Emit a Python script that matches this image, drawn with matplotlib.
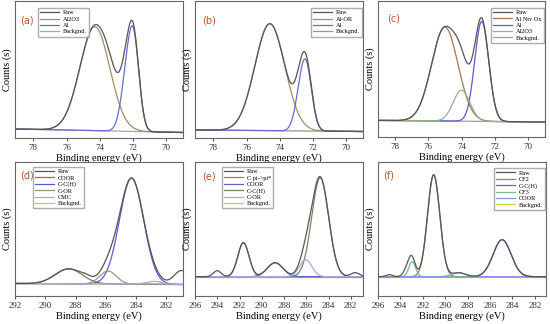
import numpy as np
import matplotlib.pyplot as plt

# ---- panel (a) ----
a_names = ['Al2O3', 'Al']
a_colors = ['#a88a68', '#6a6ad0']
a_comp = [0, 1, 1]
a_center = [74.3, 71.95, 72.4]
a_height = [104, 82, 45]
a_sigma = [0.9, 0.33, 0.35]
a_extra_center = [73.3]
a_extra_height = [14]
a_extra_sigma = [0.5]
a_bg = [9, 5.5]
a_xlim = [79.1, 69]
a_ticks = [78, 76, 74, 72, 70]

# ---- panel (b) ----
b_names = ['Al-OR', 'Al']
b_colors = ['#a88a68', '#6a6ad0']
b_comp = [0, 1, 1]
b_center = [74.6, 72.4, 72.8]
b_height = [107, 58, 25]
b_sigma = [0.9, 0.34, 0.33]
b_extra_center = [73.6]
b_extra_height = [0]
b_extra_sigma = [0.5]
b_bg = [8, 6.5]
b_xlim = [79.1, 69]
b_ticks = [78, 76, 74, 72, 70]

# ---- panel (c) ----
c_names = ['Al Ntv Ox', 'Al', 'Al2O3']
c_colors = ['#a07850', '#5a5ad0', '#98b088']
c_comp = [0, 1, 2]
c_center = [75.0, 72.79, 74.0]
c_height = [94, 100, 31]
c_sigma = [0.79, 0.42, 0.5]
c_extra_center = [74.6]
c_extra_height = [-6]
c_extra_sigma = [0.4]
c_bg = [16.6, 15]
c_xlim = [79, 69]
c_ticks = [78, 76, 74, 72, 70]

# ---- panel (d) ----
d_names = ['COOR', 'C-C(H)', 'C-OR', 'CMC']
d_colors = ['#857565', '#5a5ad0', '#909a82', '#a8a8e8']
d_comp = [0, 1, 2, 3]
d_center = [288.45, 284.3, 285.85, 282.8]
d_height = [15, 106, 13, 3]
d_sigma = [0.9, 0.8, 0.55, 0.5]
d_extra_center = [281.0, 287.3]
d_extra_height = [14, 3]
d_extra_sigma = [0.5, 0.35]
d_bg = [12.5, 11.5]
d_xlim = [292, 280.9]
d_ticks = [292, 290, 288, 286, 284, 282]

# ---- panel (e) ----
e_names = ['C pi->pi*', 'COOR', 'C-C(H)', 'C-OR']
e_colors = ['#a87850', '#6060c8', '#758565', '#a8a8e8']
e_comp = [0, 1, 2, 3]
e_center = [291.65, 288.8, 284.75, 286.05]
e_height = [34, 14, 99, 17]
e_sigma = [0.5, 0.7, 0.76, 0.55]
e_extra_center = [294.0, 281.6]
e_extra_height = [6, 4]
e_extra_sigma = [0.35, 0.4]
e_bg = [19.3, 19.3]
e_xlim = [296, 280.9]
e_ticks = [296, 294, 292, 290, 288, 286, 284, 282]

# ---- panel (f) ----
f_names = ['CF2', 'C-C(H)', 'CF3', 'COOR']
f_colors = ['#a87850', '#6060c8', '#78b898', '#8898e8']
f_comp = [0, 1, 2, 3]
f_center = [291.03, 284.92, 292.95, 288.8]
f_height = [102, 37, 15, 4]
f_sigma = [0.55, 0.8, 0.3, 0.6]
f_extra_center = [293.3, 295.0]
f_extra_height = [9, 2]
f_extra_sigma = [0.35, 0.3]
f_bg = [19.3, 19.3]
f_xlim = [296, 281]
f_ticks = [296, 294, 292, 290, 288, 286, 284, 282]

bg_colors = ['#a0a8a8', '#8a9a90', '#9898e0', '#c8c838', '#c8c838', '#d0d040']
raw_color = '#555555'
label_color = '#b5562a'

plt.rcParams['font.family'] = ['Liberation Serif', 'DejaVu Serif']

W, H = 550, 324
# axes boxes in pixels: left, top, right, bottom
boxes = [(15, 1, 183, 138), (195, 1, 363, 138), (378, 1, 545, 137),
         (15, 162, 183, 296), (195, 162, 363, 296), (378, 162, 546, 296)]
leg_anchor = [('upper left', (0.137, 0.95)), ('upper right', (0.995, 0.95)),
              ('upper right', (0.995, 0.95)), ('upper left', (0.107, 0.965)),
              ('upper left', (0.16, 0.965)), ('upper right', (0.995, 0.955))]
tag_pos = [(0.03, 0.86), (0.042, 0.86), (0.055, 0.87), (0.03, 0.9), (0.042, 0.89), (0.03, 0.9)]

panels = [
    ('(a)', a_names, a_colors, a_comp, a_center, a_height, a_sigma, a_extra_center, a_extra_height, a_extra_sigma, a_bg, a_xlim, a_ticks),
    ('(b)', b_names, b_colors, b_comp, b_center, b_height, b_sigma, b_extra_center, b_extra_height, b_extra_sigma, b_bg, b_xlim, b_ticks),
    ('(c)', c_names, c_colors, c_comp, c_center, c_height, c_sigma, c_extra_center, c_extra_height, c_extra_sigma, c_bg, c_xlim, c_ticks),
    ('(d)', d_names, d_colors, d_comp, d_center, d_height, d_sigma, d_extra_center, d_extra_height, d_extra_sigma, d_bg, d_xlim, d_ticks),
    ('(e)', e_names, e_colors, e_comp, e_center, e_height, e_sigma, e_extra_center, e_extra_height, e_extra_sigma, e_bg, e_xlim, e_ticks),
    ('(f)', f_names, f_colors, f_comp, f_center, f_height, f_sigma, f_extra_center, f_extra_height, f_extra_sigma, f_bg, f_xlim, f_ticks),
]


def gauss(x, c, h, s):
    return h * np.exp(-0.5 * ((x - c) / s) ** 2)


fig = plt.figure(figsize=(W / 100, H / 100), dpi=100)

for i, (tag, names, colors, comp, cen, hgt, sig, ec, eh, es, bgv, xlim, ticks) in enumerate(panels):
    l, t, r, b = boxes[i]
    ax = fig.add_axes([l / W, 1 - b / H, (r - l) / W, (b - t) / H])
    x = np.linspace(xlim[0], xlim[1], 800)
    bg = np.interp(x, [min(xlim), max(xlim)], [bgv[1], bgv[0]])

    comps = [np.zeros_like(x) for _ in names]
    for k, c, h, s in zip(comp, cen, hgt, sig):
        comps[k] += gauss(x, c, h, s)
    raw = bg + sum(comps)
    for c, h, s in zip(ec, eh, es):
        raw += gauss(x, c, h, s)

    ax.plot(x, raw, color=raw_color, lw=0.9, label='Raw', zorder=4)
    for k, name in enumerate(names):
        ax.plot(x, bg + comps[k], color=colors[k], lw=0.9, label=name, zorder=3)
    ax.plot(x, bg, color=bg_colors[i], lw=0.9, label='Backgnd.', zorder=2)

    ax.set_xlim(xlim)
    ax.set_ylim(0, b - t)
    ax.set_xticks(ticks)
    ax.set_yticks([])
    ax.tick_params(axis='x', labelsize=6.5, length=2.5, width=0.6, pad=1.5, colors='#333333')
    for sp in ax.spines.values():
        sp.set_color('#666666')
        sp.set_linewidth(0.8)
    ax.set_xlabel('Binding energy (eV)', fontsize=7.5, labelpad=1)
    ax.set_ylabel('Counts (s)', fontsize=7.5, labelpad=2)

    loc, anchor = leg_anchor[i]
    ax.legend(loc=loc, bbox_to_anchor=anchor, fontsize=4.5, frameon=True, fancybox=False,
              edgecolor='#999999', handlelength=3, handletextpad=0.6, labelspacing=0.15,
              borderpad=0.35, borderaxespad=0)
    ax.text(tag_pos[i][0], tag_pos[i][1], tag, transform=ax.transAxes, fontsize=7,
            color=label_color, family='DejaVu Sans', va='center', ha='left')

fig.savefig('out.png', dpi=100)
